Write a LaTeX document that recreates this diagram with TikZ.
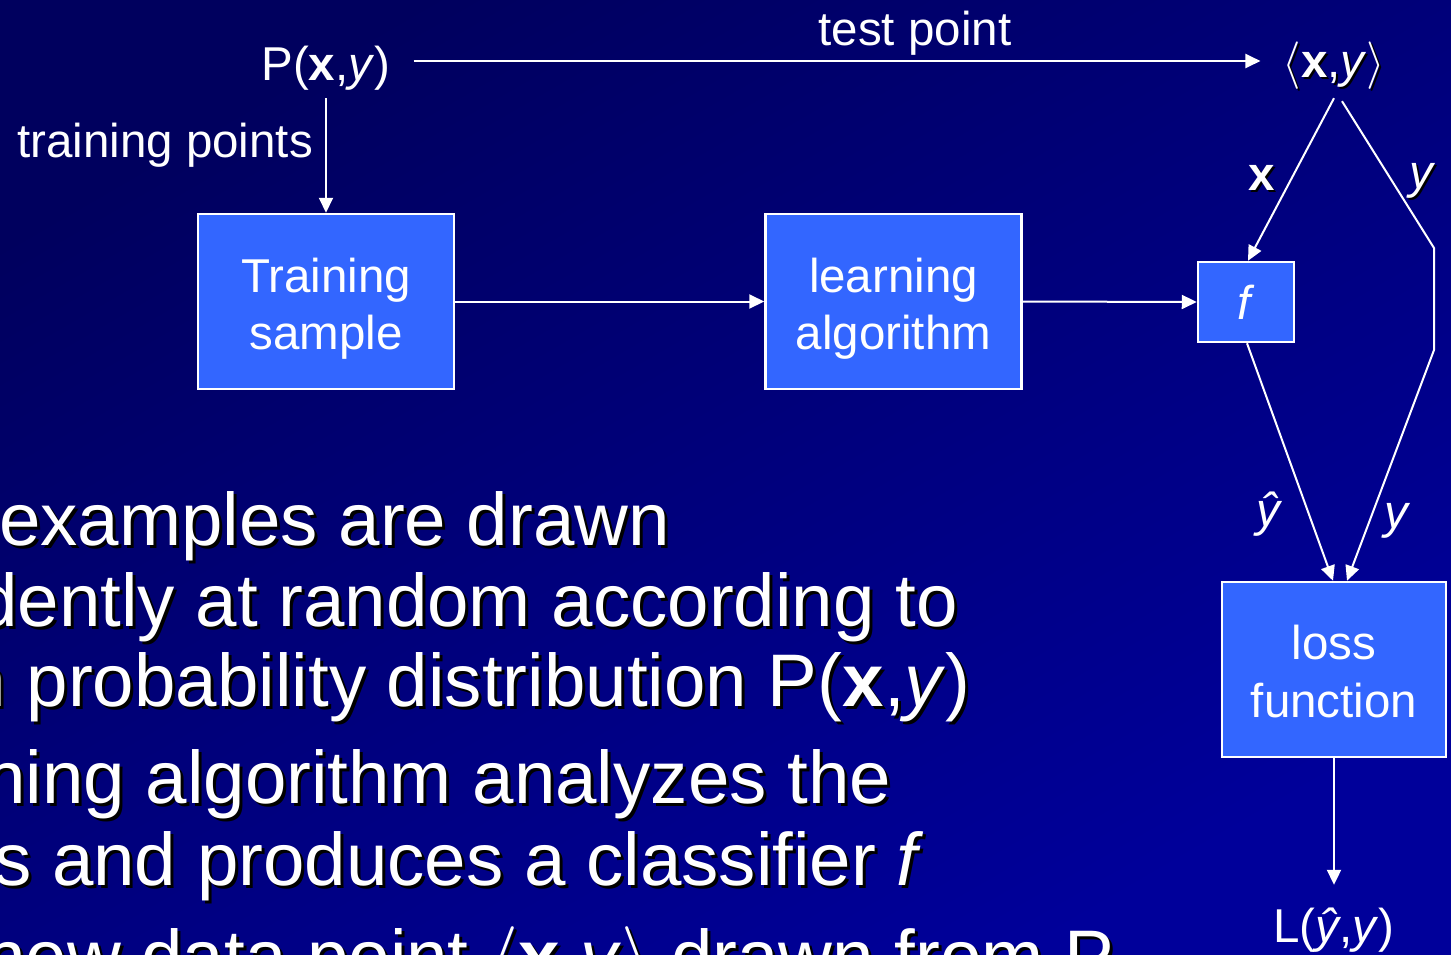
\documentclass[tikz,border=0pt]{standalone}
\usepackage{graphicx}
\usepackage{fontspec}
\setmainfont{Liberation Sans}
\usetikzlibrary{arrows.meta}
\definecolor{boxblue}{HTML}{3366FF}
\definecolor{bgtop}{RGB}{0,0,94}
\definecolor{bgbot}{RGB}{0,0,154}
\newcommand\fsS{\fontsize{47.5}{57}\selectfont}
\newcommand\fsB{\fontsize{74.5}{80}\selectfont}
\newcommand\angL[1]{\scalebox{#1}{\fontsize{10}{12}\selectfont$\langle$}}
\newcommand\angR[1]{\scalebox{#1}{\fontsize{10}{12}\selectfont$\rangle$}}
\newcommand\bline[4]{%
  \node[bul,text=black] at (#2+3,#3+3) {#4};
  \node[bul] (#1) at (#2,#3) {#4};}
\tikzset{
  txt/.style={text=white, inner sep=0pt, font=\fsS},
  bul/.style={anchor=base west, inner sep=0pt, font=\fsB, text=white},
  box/.style={draw=white, line width=2.5pt, fill=boxblue, inner sep=0pt, text=white, font=\fsS},
  arr/.style={draw=white, line width=2pt, line join=miter, -{Triangle[length=15pt,width=14pt]}},
}
\begin{document}
\begin{tikzpicture}[x=1pt,y=-1pt]
\useasboundingbox (0,0) rectangle (1451,954);
\shade[top color=bgtop,bottom color=bgbot,shading angle=30] (0,0) rectangle (1451,954);

% bullet text (clipped at the slide edge)
\begin{scope}
\clip (0,0) rectangle (1451,954);
\bline{b1}{-1}{545}{examples are drawn}
\bline{b2}{-24}{626}{dently at random according to}
\bline{b3}{-35.5}{706}{n probability distribution P(\textbf{x},\textit{y})}
\bline{b4}{-16}{803}{ning algorithm analyzes the}
\bline{b5}{-6}{885}{s and produces a classifier \textit{f}}
\bline{b6}{-16}{982}{new data point \angL{7.45}\textbf{x},\textit{y}\angR{7.45} drawn from P}
\end{scope}

% top texts
\node[txt, anchor=base, text height=44pt, text depth=6pt, inner xsep=23pt, inner ysep=12pt] (P) at (326,80) {P(\textbf{x},\textit{y})};
\node[txt, anchor=base] (tp) at (915,45) {test point};
\node[txt, anchor=base] (trp) at (165,157) {training points};
\node[txt, anchor=base, text=black] at (1336,79) {\angL{4.75}\textbf{x},\textit{y}\angR{4.75}};
\node[txt, anchor=base, text height=40pt, text depth=8pt, inner xsep=22pt, inner ysep=13pt] (XY) at (1334,77) {\angL{4.75}\textbf{x},\textit{y}\angR{4.75}};

% boxes
\node[box, minimum width=256pt, minimum height=175pt] (ts) at (326,301.5) {};
\node[txt, anchor=base] (ts1) at (326,292) {Training};
\node[txt, anchor=base] (ts2) at (326,349) {sample};
\node[box, minimum width=256pt, minimum height=175pt] (la) at (893.5,301.5) {};
\node[txt, anchor=base] (la1) at (893.5,292) {learning};
\node[txt, anchor=base] (la2) at (893.5,349) {algorithm};
\node[box, minimum width=96pt, minimum height=80pt] (f) at (1246,302) {\textit{f}};
\node[box, minimum width=224pt, minimum height=175pt] (loss) at (1334,669.5) {};
\node[txt, anchor=base] (lo1) at (1334,659) {loss};
\node[txt, anchor=base] (lo2) at (1334,717) {function};
\node[txt, anchor=base, text height=57pt] (L) at (1334,942) {L(\textit{ŷ},\textit{y})};

% edge labels
\node[txt, anchor=base, text=black] at (1264,192) {\textbf{x}};
\node[txt, anchor=base] (lx) at (1262,190) {\textbf{x}};
\node[txt, anchor=base, text=black] at (1425,190) {\textit{y}};
\node[txt, anchor=base] (ly1) at (1423,188) {\textit{y}};
\node[txt, anchor=base] (lyh) at (1270,526) {\textit{ŷ}};
\node[txt, anchor=base] (ly2) at (1398,528) {\textit{y}};

% connectors
\coordinate (c1) at (1434,248);
\coordinate (c2) at (1434,350);
\draw[arr] (P.east) -- (XY.west);
\draw[arr] (P.south) -- (ts.north);
\draw[arr] (ts.east) -- (la.west);
\draw[arr] (la.east) -- (f.west);
\draw[arr] (XY.south) -- ([xshift=2pt]f.north);
\draw[arr] ([xshift=8pt,yshift=-3pt]XY.south) -- (c1) -- (c2) -- ([xshift=13pt]loss.north);
\draw[arr] ([xshift=1pt]f.south) -- ([xshift=-1pt]loss.north);
\draw[arr] (loss.south) -- (L.north);
\end{tikzpicture}
\end{document}
